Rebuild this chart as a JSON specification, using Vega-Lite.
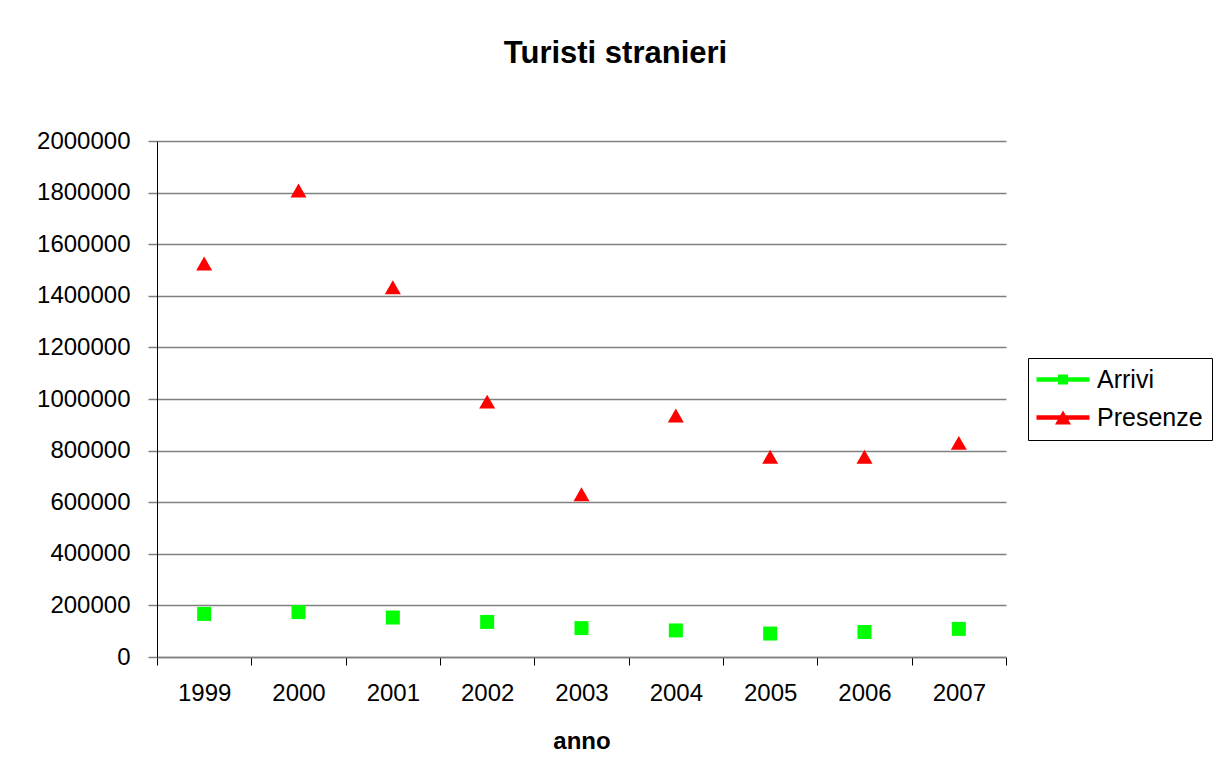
{
  "$schema": "https://vega.github.io/schema/vega-lite/v6.json",
  "width": 849,
  "height": 516,
  "autosize": {"type": "none"},
  "padding": {"left": 157, "top": 141, "right": 211, "bottom": 121},
  "background": "white",
  "config": {"view": {"stroke": null}, "font": "Liberation Sans"},
  "title": {
    "text": "Turisti stranieri",
    "fontSize": 31,
    "fontWeight": "bold",
    "font": "Liberation Sans",
    "color": "black",
    "anchor": "middle",
    "frame": "group",
    "baseline": "alphabetic",
    "offset": 35,
    "dx": 34
  },
  "data": {
    "values": [
      {"anno": "1999", "serie": "Arrivi", "valore": 167000},
      {"anno": "2000", "serie": "Arrivi", "valore": 174000},
      {"anno": "2001", "serie": "Arrivi", "valore": 153000},
      {"anno": "2002", "serie": "Arrivi", "valore": 136000},
      {"anno": "2003", "serie": "Arrivi", "valore": 112000},
      {"anno": "2004", "serie": "Arrivi", "valore": 103000},
      {"anno": "2005", "serie": "Arrivi", "valore": 91000},
      {"anno": "2006", "serie": "Arrivi", "valore": 97000},
      {"anno": "2007", "serie": "Arrivi", "valore": 109000},
      {"anno": "1999", "serie": "Presenze", "valore": 1525000},
      {"anno": "2000", "serie": "Presenze", "valore": 1808000},
      {"anno": "2001", "serie": "Presenze", "valore": 1433000},
      {"anno": "2002", "serie": "Presenze", "valore": 990000},
      {"anno": "2003", "serie": "Presenze", "valore": 631000},
      {"anno": "2004", "serie": "Presenze", "valore": 936000},
      {"anno": "2005", "serie": "Presenze", "valore": 776000},
      {"anno": "2006", "serie": "Presenze", "valore": 776000},
      {"anno": "2007", "serie": "Presenze", "valore": 830000}
    ]
  },
  "encoding": {
    "x": {
      "field": "anno",
      "type": "ordinal",
      "scale": {"type": "band", "paddingInner": 0, "paddingOuter": 0},
      "axis": {
        "title": "anno",
        "labelAngle": 0,
        "tickBand": "extent",
        "grid": false,
        "domainColor": "#808080",
        "domainWidth": 1.5,
        "tickColor": "black",
        "tickSize": 8,
        "tickWidth": 1,
        "labelFontSize": 24,
        "labelPadding": 16,
        "labelColor": "black",
        "titleFontSize": 24,
        "titleFontWeight": "bold",
        "titleColor": "black",
        "titlePadding": 24
      }
    },
    "y": {
      "field": "valore",
      "type": "quantitative",
      "scale": {"domain": [0, 2000000], "nice": false, "zero": true},
      "axis": {
        "title": null,
        "values": [0, 200000, 400000, 600000, 800000, 1000000, 1200000, 1400000, 1600000, 1800000, 2000000],
        "format": "d",
        "labelFontSize": 24,
        "labelColor": "black",
        "tickSize": 9,
        "tickColor": "#808080",
        "tickWidth": 1.5,
        "labelPadding": 18,
        "domainColor": "black",
        "domainWidth": 1,
        "grid": true,
        "gridColor": "#808080",
        "gridOpacity": 1,
        "gridWidth": 1.5
      }
    }
  },
  "layer": [
    {
      "mark": {"type": "point", "filled": true, "opacity": 0, "strokeWidth": 0, "size": 256},
      "encoding": {
        "color": {
          "field": "serie",
          "type": "nominal",
          "scale": {"domain": ["Arrivi", "Presenze"], "range": ["#00ff00", "#ff0000"]},
          "legend": {
            "title": null,
            "orient": "none",
            "legendX": 871,
            "legendY": 217,
            "strokeColor": "black",
            "fillColor": "white",
            "padding": 9,
            "labelFontSize": 25,
            "labelFont": "Liberation Sans",
            "labelColor": "black",
            "labelOffset": 35,
            "symbolSize": 256,
            "symbolOpacity": 1,
            "symbolStrokeWidth": 0,
            "rowPadding": 12
          }
        },
        "shape": {
          "field": "serie",
          "type": "nominal",
          "scale": {
            "domain": ["Arrivi", "Presenze"],
            "range": [
              "M-1.625,-0.28H5V0.28H-1.625Z M1.0625,-0.625H2.3125V0.625H1.0625Z",
              "M-1.625,-0.28H5V0.28H-1.625Z M1.6875,-0.875L2.6875,0.875L0.6875,0.875Z"
            ]
          },
          "legend": null
        }
      }
    },
    {
      "mark": {"type": "point", "filled": true, "opacity": 1, "strokeWidth": 0},
      "encoding": {
        "color": {"field": "serie", "type": "nominal", "legend": null},
        "shape": {
          "condition": {"test": "datum.serie === 'Arrivi'", "value": "square"},
          "value": "triangle-up"
        },
        "size": {
          "condition": {"test": "datum.serie === 'Arrivi'", "value": 196},
          "value": 256
        }
      }
    }
  ]
}
